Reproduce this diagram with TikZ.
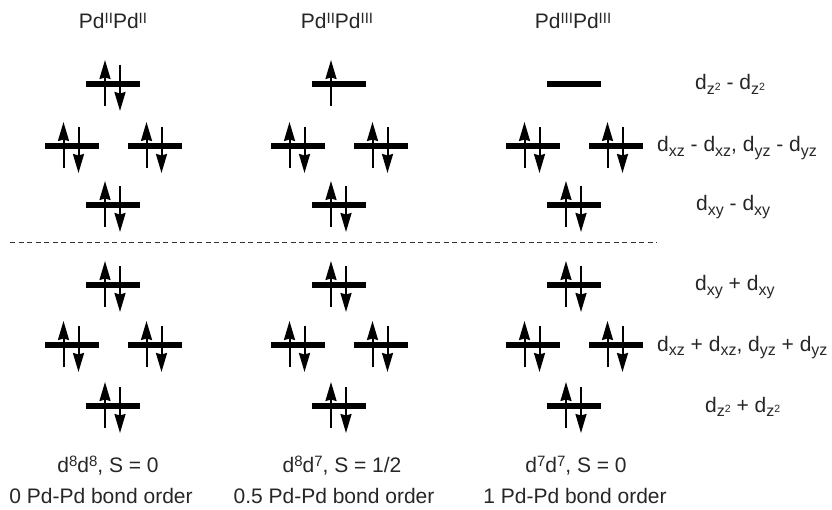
\documentclass[tikz,border=0pt]{standalone}
\usepackage{fontspec}
\setmainfont{Liberation Sans}
\usetikzlibrary{arrows.meta}
\newcommand\fsz{\fontsize{21}{25}\selectfont}
\newcommand\sbs[1]{\raisebox{-4.5pt}{\fontsize{16}{16}\selectfont #1}}
\newcommand\sps[1]{\raisebox{5.5pt}{\fontsize{15}{15}\selectfont #1}}
\newcommand\zz{z\raisebox{4pt}{\fontsize{10.5}{10.5}\selectfont 2}}
\tikzset{
  lvl/.style={fill=black,inner sep=0pt,minimum width=54pt,minimum height=5.5pt},
  spin/.style={line width=2pt,-{Stealth[length=19pt,width=11pt,inset=1.5pt]}},
  txt/.style={font=\fsz,inner sep=0pt,text=black!85},
  sep/.style={line width=1pt,dash pattern=on 5pt off 3.5pt,draw=black!80},
  pics/pair/.style={code={\node[lvl] (-bar) {};
      \draw[spin] (-8,22) -- (-8,-24);
      \draw[spin] (7,-19) -- (7,27);}},
  pics/single/.style={code={\node[lvl] (-bar) {};
      \draw[spin] (-8,22) -- (-8,-24);}},
  pics/empty/.style={code={\node[lvl] (-bar) {};}},
}
\begin{document}
\begin{tikzpicture}[x=1pt,y=-1pt]
\path[use as bounding box] (0,0) rectangle (832,510);
% column headers
\node[txt,anchor=base] (h1) at (113,29) {Pd\sps{II}Pd\sps{II}};
\node[txt,anchor=base] (h2) at (337,29) {Pd\sps{II}Pd\sps{III}};
\node[txt,anchor=base] (h3) at (573,29) {Pd\sps{III}Pd\sps{III}};
% levels
\foreach \c/\n in {113/a,339/b,574/c}{
  \pic (\n m1) at ({\c-41.5},146) {pair};
  \pic (\n m2) at ({\c+41.5},146) {pair};
  \pic (\n t3) at (\c,205) {pair};
  \pic (\n t4) at (\c,285) {pair};
  \pic (\n m5) at ({\c-41.5},345) {pair};
  \pic (\n m6) at ({\c+41.5},345) {pair};
  \pic (\n t7) at (\c,406) {pair};
}
\pic (at0) at (113,84) {pair};
\pic (bt0) at (339,84) {single};
\pic (ct0) at (574,84) {empty};
% separator
\coordinate (dl) at (10,243);
\coordinate (dr) at (657,243);
\draw[sep] (dl) -- (dr);
% right labels
\node[txt,anchor=base west] (l1) at (695,90) {d\sbs{\zz} - d\sbs{\zz}};
\node[txt,anchor=base west] (l2) at (657,152) {d\sbs{xz} - d\sbs{xz}, d\sbs{yz} - d\sbs{yz}};
\node[txt,anchor=base west] (l3) at (696,211) {d\sbs{xy} - d\sbs{xy}};
\node[txt,anchor=base west] (l4) at (695,291) {d\sbs{xy} + d\sbs{xy}};
\node[txt,anchor=base west] (l5) at (657,351) {d\sbs{xz} + d\sbs{xz}, d\sbs{yz} + d\sbs{yz}};
\node[txt,anchor=base west] (l6) at (705,412) {d\sbs{\zz} + d\sbs{\zz}};
% bottom labels
\node[txt,anchor=base] (b1) at (108,472) {d\sps{8}d\sps{8}, S = 0};
\node[txt,anchor=base] (c1) at (101,503) {0 Pd-Pd bond order};
\node[txt,anchor=base] (b2) at (342,472) {d\sps{8}d\sps{7}, S = 1/2};
\node[txt,anchor=base] (c2) at (334,503) {0.5 Pd-Pd bond order};
\node[txt,anchor=base] (b3) at (576,472) {d\sps{7}d\sps{7}, S = 0};
\node[txt,anchor=base] (c3) at (575,503) {1 Pd-Pd bond order};
\end{tikzpicture}
\end{document}
